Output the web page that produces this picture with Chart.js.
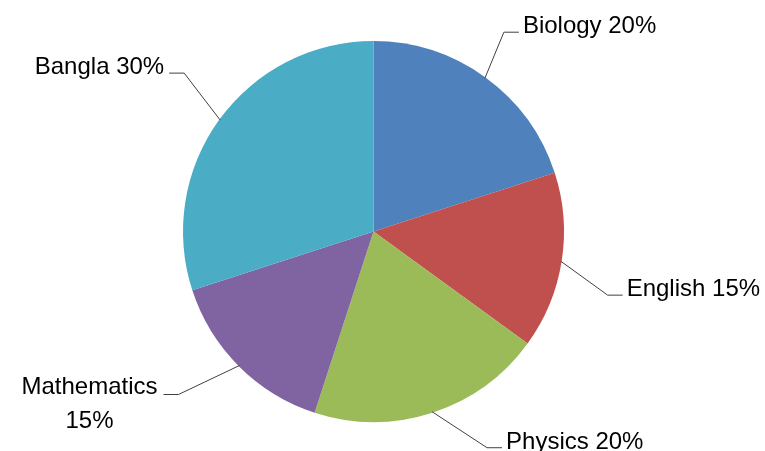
<!DOCTYPE html>
<html>
<head>
<meta charset="utf-8">
<script src="https://cdn.jsdelivr.net/npm/chart.js@4"></script>
<style>
  html, body { margin: 0; padding: 0; background: #fff; }
  #wrap { width: 765px; height: 451px; }
</style>
</head>
<body>
<div id="wrap"><canvas id="myPieChart" width="765" height="451"></canvas></div>
<script>
const subjects = ["Biology", "English", "Physics", "Mathematics", "Bangla"];
const shares = [20, 15, 20, 15, 30];
const sliceColors = ["#4F81BD", "#C0504D", "#9BBB59", "#8064A2", "#4BACC6"];

// where each leader line bends, relative to the slice edge, and which side the text sits
const labelLayout = [
  { dx: 19, dy: -46, side: "right" },
  { dx: 47, dy: 34, side: "right" },
  { dx: 55, dy: 36, side: "right" },
  { dx: -61, dy: 29, side: "left", wrap: true },
  { dx: -36, dy: -47, side: "left" },
];

const leaderLabels = {
  id: "leaderLabels",
  afterDatasetsDraw(chart) {
    const ctx = chart.ctx;
    const arcs = chart.getDatasetMeta(0).data;
    ctx.save();
    ctx.font = "24px 'Liberation Sans', Arial, sans-serif";
    ctx.fillStyle = "#000";
    ctx.strokeStyle = "#404040";
    ctx.lineWidth = 1;
    arcs.forEach((arc, i) => {
      const p = arc.getProps(["x", "y", "startAngle", "endAngle", "outerRadius"], true);
      const mid = (p.startAngle + p.endAngle) / 2;
      const sx = p.x + Math.cos(mid) * (p.outerRadius - 1);
      const sy = p.y + Math.sin(mid) * (p.outerRadius - 1);
      const lay = labelLayout[i];
      const ex = sx + lay.dx;
      const ey = sy + lay.dy;
      const hx = lay.side === "right" ? ex + 15 : ex - 15;

      ctx.beginPath();
      ctx.moveTo(sx, sy);
      ctx.lineTo(ex, ey);
      ctx.lineTo(hx, ey);
      ctx.stroke();

      const text = subjects[i] + " " + shares[i] + "%";
      ctx.textBaseline = "alphabetic";
      if (lay.wrap) {
        const w = ctx.measureText(subjects[i]).width;
        const cx = hx - 6 - w / 2;
        ctx.textAlign = "center";
        ctx.fillText(subjects[i], cx, ey);
        ctx.fillText(shares[i] + "%", cx, ey + 34);
      } else if (lay.side === "right") {
        ctx.textAlign = "left";
        ctx.fillText(text, hx + 4, ey + 1);
      } else {
        ctx.textAlign = "right";
        ctx.fillText(text, hx - 5, ey + 1);
      }
    });
    ctx.restore();
  },
};

function createPieChart() {
  const ctx = document.getElementById("myPieChart").getContext("2d");
  new Chart(ctx, {
    type: "pie",
    data: {
      labels: subjects,
      datasets: [
        {
          data: shares,
          backgroundColor: sliceColors,
          borderWidth: 0,
        },
      ],
    },
    options: {
      responsive: false,
      animation: false,
      layout: {
        padding: { left: 183, right: 201, top: 41, bottom: 29 },
      },
      plugins: {
        legend: { display: false },
        tooltip: { enabled: false },
      },
    },
    plugins: [leaderLabels],
  });
}

document.addEventListener("DOMContentLoaded", function () {
  createPieChart();
});
</script>
</body>
</html>
